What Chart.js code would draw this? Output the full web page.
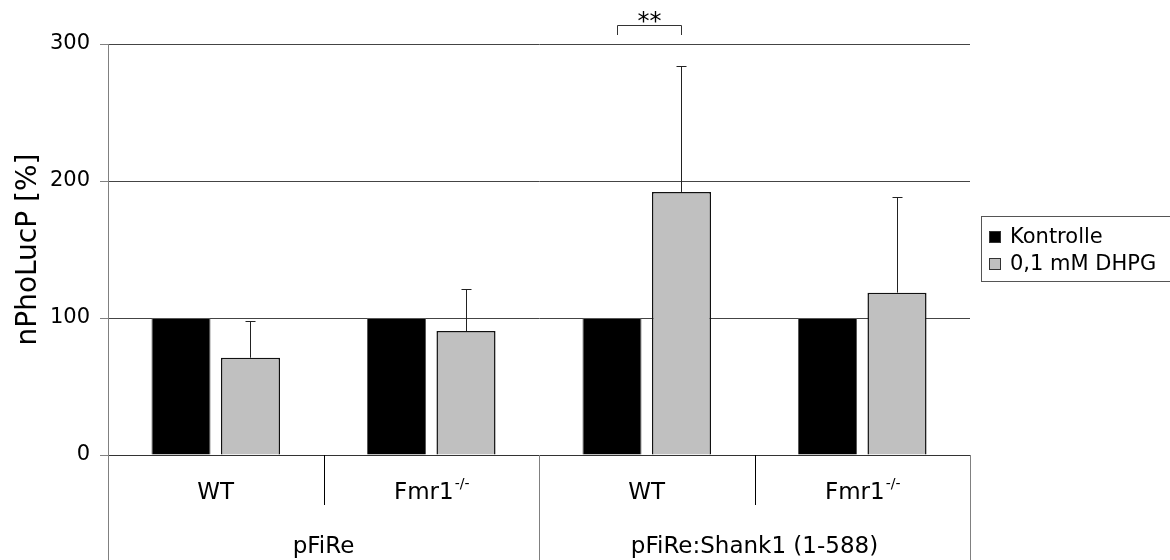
<!DOCTYPE html>
<html>
<head>
<meta charset="utf-8">
<script src="https://cdn.jsdelivr.net/npm/chart.js@4/dist/chart.umd.min.js"></script>
<style>
  body { margin: 0; background: #fff; }
  #wrap { width: 1170px; height: 560px; }
</style>
</head>
<body>
<div id="wrap"><canvas id="myChart" width="1170" height="560"></canvas></div>
<script>
// data
const cellLines = ["WT", "Fmr1", "WT", "Fmr1"];
const cellSup = ["", "-/-", "", "-/-"];
const constructs = ["pFiRe", "pFiRe:Shank1 (1-588)"];
const kontrolle = [100, 100, 100, 100];
const dhpg = [71, 90.5, 192, 118.5];
const dhpgErr = [26.5, 31, 92, 69.5];
const yTicks = [0, 100, 200, 300];
const seriesNames = ["Kontrolle", "0,1 mM DHPG"];

const FONT = '"DejaVu Sans", Verdana, sans-serif';

const overlay = {
  id: "overlay",
  afterDatasetsDraw(chart) {
    const { ctx, chartArea: a, scales } = chart;
    const y = scales.y;
    ctx.save();

    // error bars (upper only)
    ctx.strokeStyle = "#222";
    ctx.lineWidth = 1;
    chart.getDatasetMeta(1).data.forEach((bar, i) => {
      const bx = Math.round(bar.x) + 0.5;
      const top = Math.round(y.getPixelForValue(dhpg[i] + dhpgErr[i])) + 0.5;
      ctx.beginPath();
      ctx.moveTo(bx, bar.y);
      ctx.lineTo(bx, top);
      ctx.moveTo(bx - 5, top);
      ctx.lineTo(bx + 5, top);
      ctx.stroke();
    });

    // significance bracket
    const l = Math.round(chart.getDatasetMeta(0).data[2].x) + 5.5;
    const r = Math.round(chart.getDatasetMeta(1).data[2].x) + 0.5;
    ctx.strokeStyle = "#333";
    ctx.beginPath();
    ctx.moveTo(l, 35);
    ctx.lineTo(l, 25.5);
    ctx.lineTo(r, 25.5);
    ctx.lineTo(r, 35);
    ctx.stroke();
    ctx.fillStyle = "#000";
    ctx.font = "24px " + FONT;
    ctx.textAlign = "center";
    ctx.textBaseline = "alphabetic";
    ctx.fillText("**", (l + r) / 2, 29);

    // category separators under the axis
    const w = (a.right - a.left) / cellLines.length;
    for (let k = 0; k <= cellLines.length; k++) {
      const sx = Math.round(a.left + k * w) + 0.5;
      const full = k % 2 === 0;
      ctx.strokeStyle = full ? "#808080" : "#000";
      ctx.beginPath();
      ctx.moveTo(sx, a.bottom);
      ctx.lineTo(sx, full ? 560 : a.bottom + 50);
      ctx.stroke();
    }

    // cell line labels
    ctx.fillStyle = "#000";
    cellLines.forEach((lab, i) => {
      const cx = a.left + (i + 0.5) * w;
      ctx.font = "23px " + FONT;
      const mw = ctx.measureText(lab).width;
      ctx.font = "14px " + FONT;
      const sw = cellSup[i] ? ctx.measureText(cellSup[i]).width : 0;
      const x0 = cx - (mw + sw) / 2;
      ctx.textAlign = "left";
      ctx.font = "23px " + FONT;
      ctx.fillText(lab, x0, 499);
      if (cellSup[i]) {
        ctx.font = "14px " + FONT;
        ctx.fillText(cellSup[i], x0 + mw + 1, 488);
      }
    });

    // construct labels
    ctx.textAlign = "center";
    ctx.font = "23px " + FONT;
    constructs.forEach((lab, j) => {
      const cx = a.left + (j * 2 + 1) * w;
      ctx.fillText(lab, cx, 553);
    });

    // legend
    const lx = 981.5, ly = 216.5;
    ctx.strokeStyle = "#555";
    ctx.strokeRect(lx, ly, 190, 65);
    const cols = ["#000", "#c0c0c0"];
    seriesNames.forEach((name, i) => {
      const cy = 237 + i * 27;
      ctx.fillStyle = cols[i];
      ctx.fillRect(989, cy - 6, 12, 12);
      ctx.strokeStyle = "#333";
      ctx.strokeRect(989.5, cy - 5.5, 11, 11);
      ctx.fillStyle = "#000";
      ctx.textAlign = "left";
      ctx.textBaseline = "middle";
      ctx.font = "21px " + FONT;
      ctx.fillText(name, 1010, cy + 1);
    });

    ctx.restore();
  }
};

const ctx = document.getElementById("myChart").getContext("2d");

const chart = new Chart(ctx, {
  type: "bar",
  data: {
    labels: cellLines,
    datasets: [
      {
        label: seriesNames[0],
        data: kontrolle,
        backgroundColor: "#000",
        borderColor: "#555",
        borderWidth: 1,
      },
      {
        label: seriesNames[1],
        data: dhpg,
        backgroundColor: "#c0c0c0",
        borderColor: "#111",
        borderWidth: 1.5,
      },
    ],
  },
  options: {
    responsive: false,
    animation: false,
    layout: { padding: { left: 0, right: 200, top: 44, bottom: 105 } },
    datasets: { bar: { categoryPercentage: 0.645, barPercentage: 0.85 } },
    plugins: {
      legend: { display: false },
      tooltip: { enabled: false },
    },
    scales: {
      x: {
        grid: { display: false },
        ticks: { display: false },
        border: { display: true, color: "#333" },
        afterFit: (s) => { s.height = 0; },
      },
      y: {
        min: 0,
        max: 300,
        afterBuildTicks: (s) => { s.ticks = yTicks.map((v) => ({ value: v })); },
        afterFit: (s) => { s.width = 108; },
        ticks: {
          color: "#000",
          font: { family: FONT, size: 21 },
          padding: 10,
        },
        grid: {
          color: (c) => (c.tick && c.tick.value === 0 ? "rgba(0,0,0,0)" : "#444"),
          tickColor: "#808080",
          tickLength: 8,
        },
        border: { display: true, color: "#808080" },
        title: {
          display: true,
          text: "nPhoLucP [%]",
          color: "#000",
          font: { family: FONT, size: 28 },
          padding: { top: 12, bottom: 0 },
        },
      },
    },
  },
  plugins: [overlay],
});
</script>
</body>
</html>
